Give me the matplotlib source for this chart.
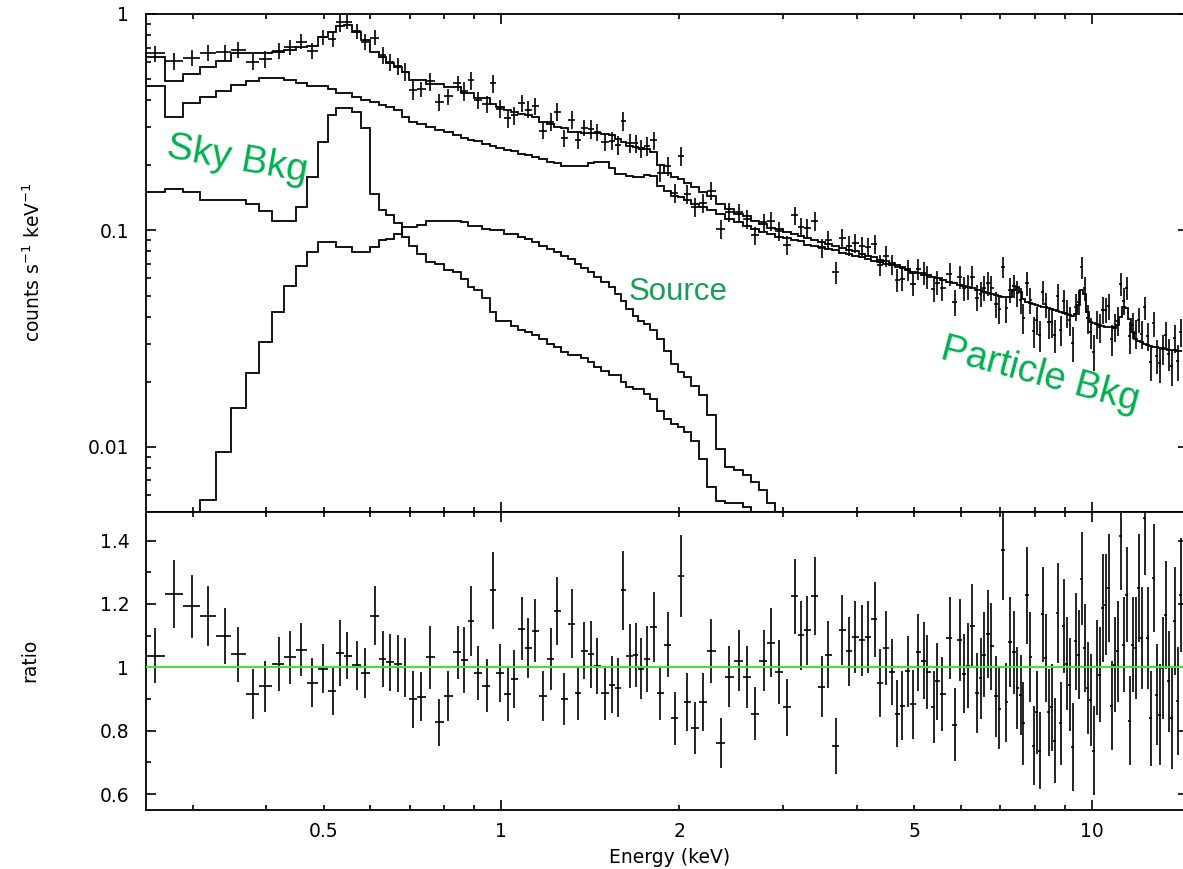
import numpy as np
import matplotlib
matplotlib.use('Agg')
import matplotlib.pyplot as plt
from matplotlib.ticker import FixedLocator, FuncFormatter, NullFormatter

# bin centres (keV)
energy = [
    0.2593, 0.2791, 0.2990, 0.3187, 0.3396, 0.3578, 0.3800, 0.3981, 0.4194, 0.4385,
    0.4581, 0.4777, 0.4990, 0.5175, 0.5333, 0.5474, 0.5692, 0.5880, 0.6107, 0.6291,
    0.6471, 0.6690, 0.6867, 0.7091, 0.7308, 0.7580, 0.7829, 0.8131, 0.8433, 0.8656,
    0.8884, 0.9117, 0.9443, 0.9681, 0.9933, 1.0249, 1.0520, 1.0824, 1.1111, 1.1405,
    1.1768, 1.2140, 1.2428, 1.2788, 1.3158, 1.3468, 1.3825, 1.4191, 1.4545, 1.4990,
    1.5379, 1.5744, 1.6081, 1.6479, 1.6870, 1.7250, 1.7656, 1.8117, 1.8547, 1.9136,
    1.9643, 2.0165, 2.0640, 2.1296, 2.1973, 2.2670, 2.3510, 2.4322, 2.5223, 2.6025,
    2.6850, 2.7843, 2.8577, 2.9484, 3.0422, 3.1384, 3.2188, 3.2930, 3.3932, 3.4914,
    3.5742, 3.6930, 3.7807, 3.8787, 3.9771, 4.0761, 4.1768, 4.2878, 4.3726, 4.4875,
    4.5941, 4.6849, 4.7699, 4.8822, 4.9787, 5.0772, 5.1918, 5.2668, 5.3984, 5.4685,
    5.5843, 5.7460, 5.8596, 5.9754, 6.0698, 6.1643, 6.2790, 6.3783, 6.4864, 6.5615,
    6.6834, 6.7608, 6.8944, 6.9758, 7.0665, 7.1682, 7.2815, 7.3846, 7.4718, 7.5722,
    7.6600, 7.7668, 7.8712, 7.9734, 8.0675, 8.1628, 8.2574, 8.3560,
    8.4545, 8.5547, 8.6557, 8.7579, 8.8614, 8.9640, 9.0700, 9.1771, 9.2855, 9.3952,
    9.5060, 9.6183, 9.7296, 9.8447, 9.9609, 10.078, 10.197, 10.318, 10.437, 10.561,
    10.685, 10.811, 10.939, 11.068, 11.199, 11.329, 11.463, 11.598, 11.735, 11.874,
    12.014, 12.153, 12.296, 12.442, 12.589, 12.738, 12.888, 13.040, 13.192, 13.348,
    13.506, 13.665, 13.826, 13.989, 14.153,
]

# data / model ratio and its error
ratio = [
    1.037, 1.232, 1.192, 1.163, 1.098, 1.041, 0.915, 0.940, 1.011, 1.032,
    1.056, 0.951, 0.996, 0.924, 1.045, 1.037, 1.006, 0.982, 1.163, 1.026,
    1.016, 1.011, 1.000, 0.900, 0.908, 1.032, 0.827, 0.910, 1.047, 1.022,
    1.147, 0.982, 0.942, 1.243, 0.982, 0.917, 0.964, 1.122, 1.061, 1.116,
    0.910, 1.025, 1.177, 0.900, 1.138, 0.918, 1.052, 1.041, 1.005, 0.919,
    0.945, 0.935, 1.243, 1.035, 1.040, 0.996, 1.026, 1.127, 0.919, 1.072,
    0.839, 1.289, 0.890, 0.809, 0.890, 1.052, 0.761, 0.970, 1.021, 0.970,
    0.854, 1.021, 1.077, 0.985, 0.874, 1.224, 1.101, 1.117, 1.224, 0.939,
    1.040, 0.753, 1.117, 1.050, 1.096, 1.085, 1.096, 1.152, 0.950, 1.061,
    0.985, 0.854, 0.879, 0.987, 0.884, 1.047, 1.021, 0.985, 0.875, 0.956,
    0.916, 1.093, 0.819, 1.087, 0.980, 1.005, 1.132, 0.919, 0.966, 1.040,
    1.106, 1.066, 0.909, 0.870, 1.369, 0.890, 1.080, 1.047, 0.935, 0.914,
    0.823, 1.227, 1.032, 0.753, 0.858, 0.737, 1.168, 1.029,
    0.858, 0.874, 0.769, 1.171, 0.824, 1.131, 1.011, 0.945, 0.748, 1.082,
    1.040, 1.280, 1.061, 0.935, 0.898, 0.737, 1.000, 0.977, 1.187, 1.198,
    1.250, 0.879, 1.008, 1.050, 1.415, 1.072, 1.229, 0.832, 1.072, 1.061,
    1.250, 1.093, 1.470, 1.093, 0.840, 1.282, 0.914, 0.851, 0.998, 1.166,
    0.956, 0.840, 1.145, 0.893, 1.229,
]

ratio_err = [
    0.086, 0.108, 0.100, 0.095, 0.088, 0.087, 0.079, 0.080, 0.086, 0.084,
    0.084, 0.077, 0.077, 0.075, 0.103, 0.074, 0.077, 0.079, 0.093, 0.089,
    0.090, 0.090, 0.093, 0.090, 0.076, 0.099, 0.074, 0.078, 0.083, 0.104,
    0.111, 0.086, 0.083, 0.121, 0.091, 0.087, 0.091, 0.100, 0.096, 0.100,
    0.080, 0.098, 0.108, 0.083, 0.108, 0.084, 0.090, 0.105, 0.088, 0.084,
    0.090, 0.093, 0.124, 0.101, 0.101, 0.097, 0.103, 0.110, 0.084, 0.104,
    0.084, 0.130, 0.091, 0.083, 0.091, 0.100, 0.078, 0.096, 0.097, 0.097,
    0.084, 0.097, 0.109, 0.101, 0.090, 0.118, 0.108, 0.109, 0.123, 0.097,
    0.105, 0.088, 0.111, 0.108, 0.113, 0.111, 0.113, 0.118, 0.108, 0.116,
    0.105, 0.105, 0.109, 0.111, 0.109, 0.121, 0.121, 0.116, 0.113, 0.121,
    0.118, 0.130, 0.115, 0.130, 0.125, 0.134, 0.130, 0.126, 0.128, 0.135,
    0.139, 0.136, 0.128, 0.129, 0.155, 0.124, 0.142, 0.131, 0.129, 0.126,
    0.130, 0.154, 0.142, 0.124, 0.131, 0.121, 0.150, 0.139,
    0.137, 0.137, 0.134, 0.158, 0.131, 0.148, 0.147, 0.147, 0.139, 0.152,
    0.140, 0.146, 0.140, 0.145, 0.145, 0.140, 0.150, 0.150, 0.170, 0.160,
    0.170, 0.140, 0.150, 0.160, 0.170, 0.150, 0.150, 0.140, 0.150, 0.160,
    0.170, 0.160, 0.180, 0.160, 0.150, 0.170, 0.160, 0.160, 0.160, 0.170,
    0.160, 0.160, 0.170, 0.170, 0.180,
]

# folded model, counts s^-1 keV^-1
model_total = [
    0.634, 0.491, 0.527, 0.570, 0.606, 0.658, 0.658, 0.658, 0.667, 0.681,
    0.706, 0.711, 0.785, 0.828, 0.880, 0.889, 0.828, 0.758, 0.669, 0.630,
    0.591, 0.570, 0.541, 0.495, 0.495, 0.474, 0.474, 0.458, 0.458, 0.430,
    0.430, 0.407, 0.407, 0.385, 0.372, 0.360, 0.353, 0.345, 0.341, 0.335,
    0.317, 0.310, 0.301, 0.296, 0.286, 0.286, 0.283, 0.283, 0.283, 0.280,
    0.275, 0.265, 0.257, 0.245, 0.243, 0.240, 0.239, 0.231, 0.200, 0.185,
    0.177, 0.172, 0.165, 0.159, 0.150, 0.145, 0.133, 0.125, 0.119, 0.116,
    0.111, 0.107, 0.103, 0.101, 0.098, 0.096, 0.094, 0.092, 0.090, 0.0884,
    0.087, 0.085, 0.083, 0.081, 0.080, 0.078, 0.0765, 0.075, 0.073, 0.072,
    0.0705, 0.069, 0.068, 0.0665, 0.0643, 0.0635, 0.0625, 0.062, 0.061, 0.060,
    0.059, 0.0577, 0.057, 0.056, 0.0552, 0.0545, 0.054, 0.0533, 0.0528, 0.0522,
    0.0515, 0.051, 0.0503, 0.050, 0.0495, 0.049, 0.0491, 0.0530, 0.0547, 0.0520,
    0.0480, 0.0466, 0.0460, 0.0455, 0.0450, 0.0447, 0.0444, 0.0442,
    0.0438, 0.0432, 0.0428, 0.0424, 0.0420, 0.0416, 0.0412, 0.0407, 0.0404, 0.0410,
    0.0450, 0.0528, 0.0510, 0.0420, 0.0378, 0.0374, 0.0370, 0.0366, 0.0362, 0.0359,
    0.0357, 0.0357, 0.0355, 0.0365, 0.0400, 0.0442, 0.0440, 0.0390, 0.0340, 0.0315,
    0.0310, 0.0305, 0.0300, 0.0297, 0.0293, 0.0290, 0.0289, 0.0287, 0.0285, 0.0283,
    0.0281, 0.0280, 0.0279, 0.0278, 0.0277,
]

model_particle = [
    0.464, 0.333, 0.386, 0.414, 0.441, 0.469, 0.490, 0.504, 0.504, 0.495,
    0.481, 0.464, 0.464, 0.448, 0.430, 0.430, 0.414, 0.400, 0.390, 0.380,
    0.370, 0.360, 0.335, 0.317, 0.310, 0.300, 0.292, 0.284, 0.275, 0.268,
    0.262, 0.258, 0.250, 0.245, 0.240, 0.236, 0.232, 0.226, 0.222, 0.218,
    0.213, 0.208, 0.204, 0.199, 0.199, 0.199, 0.199, 0.205, 0.207, 0.207,
    0.195, 0.183, 0.182, 0.178, 0.177, 0.177, 0.181, 0.178, 0.160, 0.152,
    0.144, 0.142, 0.138, 0.133, 0.128, 0.124, 0.119, 0.113, 0.109, 0.105,
    0.102, 0.098, 0.096, 0.0935, 0.092, 0.090, 0.089, 0.086, 0.0845, 0.0835,
    0.0825, 0.081, 0.079, 0.0775, 0.0765, 0.075, 0.0738, 0.0725, 0.0714, 0.070,
    0.069, 0.068, 0.067, 0.0658, 0.0638,
]

model_sky = [
    0.150, 0.156, 0.150, 0.138, 0.138, 0.138, 0.133, 0.123, 0.111, 0.111,
    0.128, 0.176, 0.256, 0.341, 0.366, 0.366, 0.353, 0.296, 0.148, 0.124,
    0.118, 0.108, 0.0933, 0.085, 0.078, 0.0714, 0.0703, 0.0654, 0.0643, 0.0596,
    0.0547, 0.0529, 0.0485, 0.0420, 0.0383, 0.0383, 0.0362, 0.0348, 0.0338, 0.0327,
    0.0316, 0.0299, 0.0289, 0.0274, 0.0266, 0.0266, 0.0258, 0.0246, 0.0234, 0.0224,
    0.0214, 0.0214, 0.0199, 0.0190, 0.0186, 0.0186, 0.0176, 0.0167, 0.0147, 0.0135,
    0.0128, 0.0123, 0.0117, 0.0107, 0.0088, 0.0065, 0.0056, 0.0055, 0.0055, 0.0053,
    0.0049, 0.0045, 0.0042,
]

model_source = [
    0.0015, 0.0025, 0.0038, 0.00566, 0.00945, 0.0151, 0.0219, 0.0306, 0.0418, 0.0552,
    0.0687, 0.0794, 0.0884, 0.0884, 0.0837, 0.0837, 0.0794, 0.0794, 0.0837, 0.090,
    0.0914, 0.0965, 0.1034, 0.1034, 0.1064, 0.111, 0.111, 0.111, 0.111, 0.109,
    0.105, 0.105, 0.102, 0.100, 0.100, 0.0965, 0.0965, 0.0933, 0.0914, 0.0884,
    0.085, 0.082, 0.0794, 0.0759, 0.0734, 0.0703, 0.0674, 0.0643, 0.0608, 0.0577,
    0.0547, 0.0509, 0.0474, 0.0434, 0.0404, 0.0383, 0.0369, 0.0345, 0.0316, 0.0278,
    0.0241, 0.0222, 0.0210, 0.0192, 0.0173, 0.0140, 0.0098, 0.0081, 0.0078, 0.0074,
    0.0069, 0.0063, 0.0055, 0.0050, 0.0045,
]

e = np.array(energy)
mid = np.sqrt(e[:-1] * e[1:])
edges = np.concatenate([[e[0] ** 2 / mid[0]], mid, [e[-1] ** 2 / mid[-1]]])
xerr = [e - edges[:-1], edges[1:] - e]

r = np.array(ratio)
r_err = np.array(ratio_err)
tot = np.array(model_total)
counts = r * tot
counts_err = r_err * tot

fig = plt.figure(figsize=(11.83, 8.69), dpi=100)
ax1 = fig.add_axes([0.1234, 0.4108, 0.8808, 0.5731])
ax2 = fig.add_axes([0.1234, 0.0679, 0.8808, 0.3429], sharex=ax1)

lw_model = 1.3
ax1.stairs(model_total, edges, baseline=None, color='black', lw=lw_model)
ax1.stairs(model_particle, edges[:len(model_particle) + 1], baseline=None, color='black', lw=lw_model)
ax1.stairs(model_sky, edges[:len(model_sky) + 1], baseline=None, color='black', lw=lw_model)
ax1.stairs(model_source, edges[:len(model_source) + 1], baseline=None, color='black', lw=lw_model)
ax1.errorbar(e, counts, xerr=xerr, yerr=counts_err, fmt='none', ecolor='black',
             elinewidth=1.2, capsize=0, zorder=3)

ax2.errorbar(e, r, xerr=xerr, yerr=r_err, fmt='none', ecolor='black',
             elinewidth=1.2, capsize=0, zorder=2)
ax2.axhline(1.0, color='#3fe33f', lw=1.5, zorder=3)

ax1.set_xscale('log')
ax1.set_yscale('log')
ax1.set_xlim(0.25, 14.55)
ax1.set_ylim(0.005, 1.0)
ax2.set_ylim(0.55, 1.49)

# x ticks: long ones at decades, labels at 0.5, 1, 2, 5, 10
ax2.xaxis.set_major_locator(FixedLocator([1, 10]))
ax2.xaxis.set_minor_locator(FixedLocator([0.3, 0.4, 0.5, 0.6, 0.7, 0.8, 0.9,
                                          2, 3, 4, 5, 6, 7, 8, 9]))
ax2.xaxis.set_major_formatter(FuncFormatter(lambda v, p: '%g' % v))
ax2.xaxis.set_minor_formatter(FuncFormatter(
    lambda v, p: '%g' % v if round(v, 2) in (0.5, 2.0, 5.0) else ''))

ax1.yaxis.set_major_locator(FixedLocator([0.01, 0.1, 1]))
ax1.yaxis.set_minor_locator(FixedLocator(
    [0.005, 0.006, 0.007, 0.008, 0.009] + [k / 100 for k in range(2, 10)] + [k / 10 for k in range(2, 10)]))
ax1.yaxis.set_major_formatter(FuncFormatter(lambda v, p: '%g' % v))
ax1.yaxis.set_minor_formatter(NullFormatter())

ax2.yaxis.set_major_locator(FixedLocator([0.6, 0.8, 1.0, 1.2, 1.4]))
ax2.yaxis.set_minor_locator(FixedLocator([0.7, 0.9, 1.1, 1.3]))
ax2.yaxis.set_major_formatter(FuncFormatter(lambda v, p: '%g' % v))

for ax in (ax1, ax2):
    for sp in ax.spines.values():
        sp.set_linewidth(1.3)
    ax.tick_params(which='both', direction='in', top=True, right=True,
                   labelsize=13.5, width=1.2, colors='black')
    ax.tick_params(which='major', length=7.2)
    ax.tick_params(which='minor', length=3.8)
    ax.tick_params(axis='y', which='both', pad=12)
    ax.tick_params(axis='x', which='both', pad=9)
ax1.tick_params(axis='x', which='both', labelbottom=False)

fig.text(0.028, 0.698, 'counts s$^{-1}$ keV$^{-1}$', rotation=90, ha='center', va='center', fontsize=13.5)
fig.text(0.025, 0.2405, 'ratio', rotation=90, ha='center', va='center', fontsize=13.5)
fig.text(0.5664, 0.0127, 'Energy (keV)', ha='center', va='center', fontsize=13.5)

green = '#00b050'
fig.text(0.2003, 0.8159, 'Sky Bkg', rotation=-10, ha='center', va='center',
         fontsize=28, color=green, family='Liberation Sans')
fig.text(0.5731, 0.664, 'Source', ha='center', va='center',
         fontsize=22.5, color='#17a055', family='Liberation Sans')
fig.text(0.879, 0.5685, 'Particle Bkg', rotation=-15, ha='center', va='center',
         fontsize=27.5, color=green, family='Liberation Sans')

fig.savefig('out.png', dpi=100)
